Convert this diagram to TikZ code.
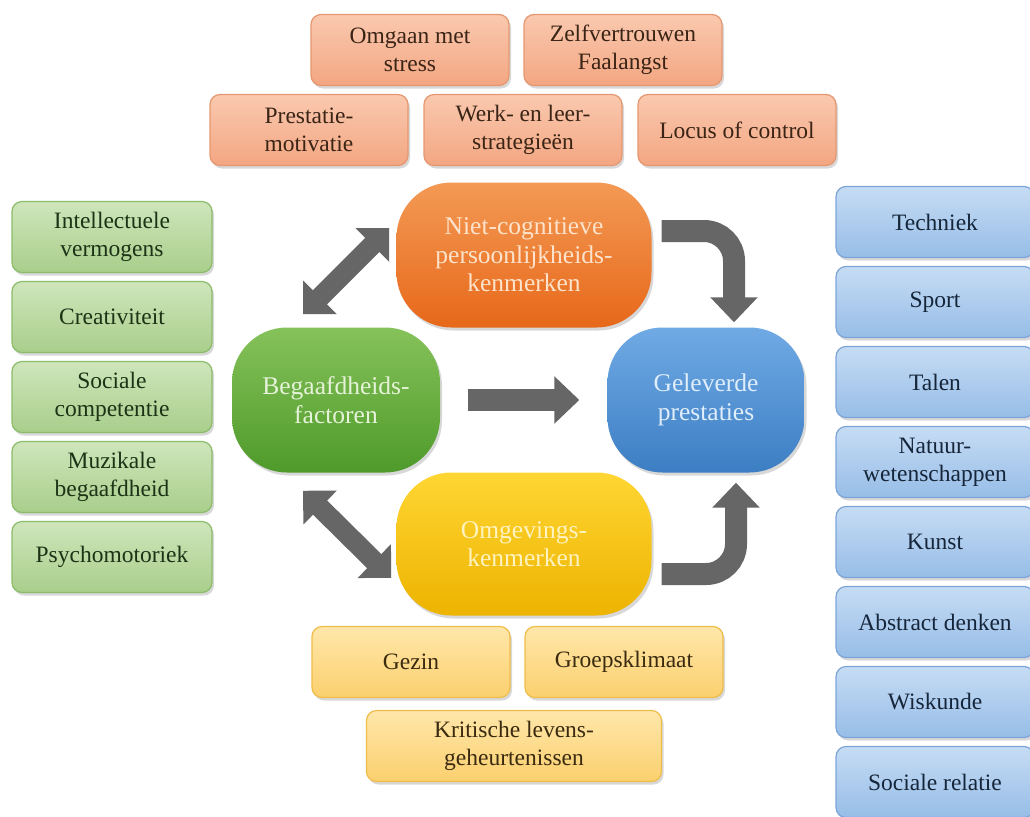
\documentclass[tikz,border=0pt]{standalone}
\usepackage{fontspec}
\setmainfont{Liberation Serif}
\usetikzlibrary{shadows,arrows.meta,calc}
\definecolor{orT}{HTML}{FAC9AF}\definecolor{orBt}{HTML}{F3A682}\definecolor{orBd}{HTML}{E59770}\definecolor{orTx}{HTML}{3A2416}
\definecolor{grT}{HTML}{CFE6BB}\definecolor{grBt}{HTML}{A8CE8B}\definecolor{grBd}{HTML}{8BBC6A}\definecolor{grTx}{HTML}{1D3316}
\definecolor{blT}{HTML}{C6DCF4}\definecolor{blBt}{HTML}{97BDE7}\definecolor{blBd}{HTML}{7BA5D8}\definecolor{blTx}{HTML}{16263A}
\definecolor{yeT}{HTML}{FFE7AA}\definecolor{yeBt}{HTML}{FBD06E}\definecolor{yeBd}{HTML}{EFBD4A}\definecolor{yeTx}{HTML}{3A2A10}
\definecolor{OrT}{HTML}{F39A55}\definecolor{OrB}{HTML}{E7681A}\definecolor{OrTx}{HTML}{FDE3CB}
\definecolor{GrT}{HTML}{86C25A}\definecolor{GrB}{HTML}{4E9A2A}\definecolor{GrTx}{HTML}{E6F2D9}
\definecolor{BlT}{HTML}{70AAE5}\definecolor{BlB}{HTML}{3C7EC3}\definecolor{BlTx}{HTML}{E0EDFA}
\definecolor{YeT}{HTML}{FFD633}\definecolor{YeB}{HTML}{EDB300}\definecolor{YeTx}{HTML}{FFF3C0}
\definecolor{arr}{HTML}{666666}
\begin{document}
\begin{tikzpicture}[x=1pt,y=-1pt,
  smallbox/.style={rounded corners=10pt, minimum width=198pt, minimum height=71pt, inner sep=0pt, align=center,
    font=\fontsize{23.5}{28}\selectfont, line width=1.2pt,
    drop shadow={opacity=0.3,shadow xshift=2pt,shadow yshift=-3pt}},
  osmall/.style={smallbox, draw=orBd, top color=orT, bottom color=orBt, text=orTx},
  gsmall/.style={smallbox, draw=grBd, top color=grT, bottom color=grBt, text=grTx},
  bsmall/.style={smallbox, draw=blBd, top color=blT, bottom color=blBt, text=blTx},
  ysmall/.style={smallbox, draw=yeBd, top color=yeT, bottom color=yeBt, text=yeTx},
  bigbox/.style={rounded corners=55pt, inner sep=0pt, align=center, minimum height=145pt,
    font=\fontsize{25.5}{28.5}\selectfont,
    drop shadow={opacity=0.3,shadow xshift=2pt,shadow yshift=-3pt}},
  bigarrow/.style={draw=arr, line width=22pt, -{Triangle[length=25pt,width=46pt]}},
  dblarrow/.style={draw=arr, line width=20pt, {Triangle[length=24pt,width=46pt]}-{Triangle[length=24pt,width=46pt]}}
]
\useasboundingbox[fill=white] (0,0) rectangle (1030,816);

% top orange boxes
\node[osmall] (o1) at (410,50) {Omgaan met\\stress};
\node[osmall] (o2) at (623,50) {Zelfvertrouwen\\Faalangst};
\node[osmall] (o3) at (309,130) {Prestatie-\\motivatie};
\node[osmall] (o4) at (523,130) {Werk- en leer-\\strategieën};
\node[osmall] (o5) at (737,130) {Locus of control};

% left green boxes
\node[gsmall, minimum width=200pt] (g1) at (112,237) {Intellectuele\\vermogens};
\node[gsmall, minimum width=200pt] (g2) at (112,317) {Creativiteit};
\node[gsmall, minimum width=200pt] (g3) at (112,397) {Sociale\\competentie};
\node[gsmall, minimum width=200pt] (g4) at (112,477) {Muzikale\\begaafdheid};
\node[gsmall, minimum width=200pt] (g5) at (112,557) {Psychomotoriek};

% right blue boxes
\node[bsmall] (b1) at (935,222) {Techniek};
\node[bsmall] (b2) at (935,302) {Sport};
\node[bsmall] (b3) at (935,382) {Talen};
\node[bsmall] (b4) at (935,462) {Natuur-\\wetenschappen};
\node[bsmall] (b5) at (935,542) {Kunst};
\node[bsmall] (b6) at (935,622) {Abstract denken};
\node[bsmall] (b7) at (935,702) {Wiskunde};
\node[bsmall] (b8) at (935,782) {Sociale relatie};

% bottom yellow boxes
\node[ysmall] (y1) at (411,662) {Gezin};
\node[ysmall] (y2) at (624,662) {Groepsklimaat};
\node[ysmall, minimum width=295pt] (y3) at (514,746) {Kritische levens-\\geheurtenissen};

% big central boxes
\node[bigbox, minimum width=255pt, top color=OrT, bottom color=OrB, text=OrTx] (nc) at (524,255) {Niet-cognitieve\\persoonlijkheids-\\kenmerken};
\node[bigbox, minimum width=208pt, top color=GrT, bottom color=GrB, text=GrTx] (bf) at (336,400) {Begaafdheids-\\factoren};
\node[bigbox, minimum width=197pt, top color=BlT, bottom color=BlB, text=BlTx] (gp) at (706,400) {Geleverde\\prestaties};
\node[bigbox, minimum width=255pt, minimum height=143pt, top color=YeT, bottom color=YeB, text=YeTx] (om) at (524,544) {Omgevings-\\kenmerken};

% arrows
\draw[bigarrow, shorten <=28pt, shorten >=28pt] (bf.east) -- (gp.west);

\coordinate (s1) at ($(nc.east)+(10,-24)$);
\coordinate (t1) at ($(gp.north)+(28,-5)$);
\draw[bigarrow, rounded corners=30pt] (s1) -| (t1);

\coordinate (s2) at ($(om.east)+(10,30)$);
\coordinate (t2) at ($(gp.south)+(30,10)$);
\draw[bigarrow, rounded corners=30pt] (s2) -| (t2);

\coordinate (d1a) at ($(bf.north)+(-33,-13)$);
\coordinate (d1b) at ($(nc.west)+(-7,-27)$);
\draw[dblarrow] (d1a) -- (d1b);

\coordinate (d2a) at ($(bf.south)+(-33,18)$);
\coordinate (d2b) at ($(om.west)+(-5,34)$);
\draw[dblarrow] (d2a) -- (d2b);
\end{tikzpicture}
\end{document}
